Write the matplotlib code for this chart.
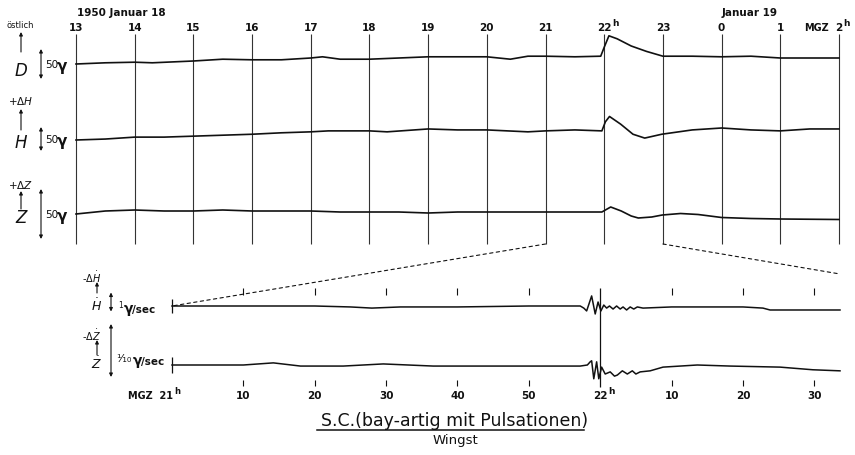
import numpy as np
import matplotlib.pyplot as plt
from matplotlib.patches import ConnectionPatch

W, H = 855, 456

# Wingst magnetogram, 18/19 Jan 1950 (MGZ hours, counted on from 0h of the 18th)
d_time = [13, 13.5, 14, 14.3, 15, 15.5, 16, 16.5, 17, 17.2, 17.5, 18, 18.5, 19, 19.5, 20,
          20.4, 20.7, 21, 21.5, 21.94, 22.0, 22.08, 22.22, 22.46, 22.72, 23, 23.5, 24,
          24.5, 25, 25.5, 26]
d_gamma = [0, 2, 3, 2, 5, 8, 7, 7, 10, 12, 8, 8, 10, 12, 12, 12,
           8, 13, 13, 12, 13, 28, 47, 42, 30, 21, 13, 13, 12,
           13, 10, 10, 10]

h_time = [13, 13.5, 14, 14.5, 15, 15.5, 16, 16.5, 17, 17.3, 18, 18.3, 19, 19.5, 20, 20.7,
          21, 21.5, 21.96, 22.02, 22.09, 22.28, 22.49, 22.69, 22.98, 23.5, 24, 24.5, 25,
          25.5, 26]
h_gamma = [0, 2, 6, 6, 8, 10, 12, 15, 17, 19, 19, 17, 23, 21, 21, 17,
           19, 21, 19, 38, 49, 33, 12, 4, 12, 21, 25, 21, 19,
           23, 23]

z_time = [13, 13.5, 14, 14.5, 15, 15.5, 16, 16.5, 17, 17.5, 18, 18.5, 19, 19.5, 20, 20.5,
          21, 21.5, 21.96, 22.11, 22.29, 22.46, 22.58, 22.81, 22.99, 23.3, 23.6, 24, 24.5,
          25, 26]
z_gamma = [0, 3, 4, 3, 3, 4, 3, 3, 3, 2, 2, 2, 1, 2, 2, 2,
           2, 2, 2, 7, 3, -2, -4, -3, -1, 0.5, -0.5, -3.5, -4.5,
           -5, -5.5]

grid_hours = list(range(13, 27))
grid_labels = ['13', '14', '15', '16', '17', '18', '19', '20', '21', '22', '23', '0', '1', '2']
grid_sup = [False] * 9 + [True] + [False] * 3 + [True]

# rapid-run record, minutes after 21h MGZ
hdot_min = [0, 10, 20, 25, 28, 32, 40, 50, 57.2, 57.7, 58.1, 58.8, 59.3, 59.7, 60.1, 60.5,
            60.9, 61.3, 61.8, 62.3, 62.8, 63.2, 63.7, 64.2, 64.7, 65.2, 66.0, 70, 80, 82.8,
            83.8, 93.6]
hdot = [0, 0, 0, -0.05, -0.11, -0.05, -0.05, 0, 0, -0.11, -0.26, 0.53, -0.42, 0.21, -0.26, 0.05,
        -0.11, 0, -0.16, 0, -0.16, -0.05, -0.21, -0.05, -0.16, -0.05, -0.11, -0.05, -0.05, -0.11,
        -0.21, -0.21]

zdot_min = [0, 10, 14.2, 18, 24, 29.6, 36.6, 43.2, 57.2, 58.2, 58.6, 58.8, 59.1, 59.5, 59.8,
            60.2, 60.7, 61.4, 62.0, 62.4, 63.1, 63.8, 64.5, 65.0, 65.6, 67.0, 68.8, 71.2, 73.6,
            78.2, 85.2, 89.8, 93.6]
zdot = [0, 0, 0.004, -0.002, -0.002, 0.002, -0.002, -0.002, -0.002, 0, 0.006, 0.008, -0.026,
        0.006, -0.026, -0.004, -0.017, -0.013, -0.021, -0.019, -0.011, -0.017, -0.011, -0.017,
        -0.013, -0.011, -0.004, -0.002, 0, -0.002, -0.004, -0.009, -0.011]

minute_ticks = [10, 20, 30, 40, 50, 60, 70, 80, 90]
minute_labels = ['10', '20', '30', '40', '50', '22', '10', '20', '30']

# trace baselines (pixel rows) and sensitivities
D_BASE, D_SCALE = 65, 0.6      # px per gamma
H_BASE, H_SCALE = 141, 0.48
Z_BASE, Z_SCALE = 215, 1.0
HD_BASE, HD_SCALE = 307, 19    # px per gamma/sec
ZD_BASE, ZD_SCALE = 366, 530

plt.rcParams['font.family'] = 'DejaVu Sans'
fig = plt.figure(figsize=(W / 100, H / 100), dpi=100)


def panel(x0, x1, xlim):
    ax = fig.add_axes([x0 / W, 0, (x1 - x0) / W, 1])
    ax.set_xlim(*xlim)
    ax.set_ylim(H, 0)
    ax.axis('off')
    return ax


top = panel(76, 839, (13, 26))
bot = panel(172, 840, (0, 93.6))
ov = panel(0, W, (0, W))

INK = '#111111'
TXT = dict(color=INK, ha='center', va='center')


def arrow(ax, x, y0, y1, style='-|>', lw=0.8):
    ax.annotate('', xy=(x, y1), xytext=(x, y0),
                arrowprops=dict(arrowstyle=style, lw=lw, color=INK, shrinkA=0, shrinkB=0,
                                mutation_scale=5))


def sup_h(ax, x, y, dx, size=6.5):
    # superscript "h" set just after an hour number
    ax.annotate('h', (x, y), xytext=(dx, 3.5), textcoords='offset points', fontsize=size,
                weight='bold', color=INK, ha='left', va='center')


# ---- hourly traces
top.vlines(grid_hours, 35, 245, colors='#333333', lw=0.8, clip_on=False)
for t, v, base, sc in [(d_time, d_gamma, D_BASE, D_SCALE),
                       (h_time, h_gamma, H_BASE, H_SCALE),
                       (z_time, z_gamma, Z_BASE, Z_SCALE)]:
    top.plot(t, base - np.asarray(v) * sc, color=INK, lw=1.2, clip_on=False,
             solid_joinstyle='round')

for hr, lab, sup in zip(grid_hours, grid_labels, grid_sup):
    top.text(hr, 28, lab, fontsize=7.5, weight='bold', **TXT)
    if sup:
        sup_h(top, hr, 28, dx=2.9 * len(lab) + 0.3)
ov.text(77, 13, '1950 Januar 18', fontsize=7.5, weight='bold', color=INK, ha='left', va='center')
ov.text(750, 13, 'Januar 19', fontsize=7.5, weight='bold', **TXT)
ov.text(829, 28, 'MGZ', fontsize=7, weight='bold', color=INK, ha='right', va='center')

# component names and scale bars
ov.text(20, 26, 'östlich', fontsize=6, **TXT)
arrow(ov, 21, 53, 33)
ov.text(21, 71, 'D', fontsize=12, style='italic', **TXT)
ov.text(21, 101, '+$\\mathit{\\Delta H}$', fontsize=7.5, **TXT)
arrow(ov, 21, 131, 110)
ov.text(21, 143, 'H', fontsize=12, style='italic', **TXT)
ov.text(21, 185, '+$\\mathit{\\Delta Z}$', fontsize=7.5, **TXT)
arrow(ov, 21, 210, 192)
ov.text(21, 218, 'Z', fontsize=12, style='italic', **TXT)

for base, sc in [(D_BASE, D_SCALE), (H_BASE - 1, H_SCALE), (Z_BASE, Z_SCALE)]:
    arrow(ov, 41, base + 25 * sc, base - 25 * sc, style='<|-|>')
    ov.text(45, base, '50', fontsize=7.5, color=INK, ha='left', va='center')
    ov.text(57, base + 2, 'γ', fontsize=11, weight='bold', color=INK, ha='left', va='center')

# ---- rapid-run traces
bot.vlines([m for m in minute_ticks if m != 60], 289, 296, colors=INK, lw=0.8)
bot.vlines([m for m in minute_ticks if m != 60], 381, 387, colors=INK, lw=0.8)
bot.vlines([60], 289, 388, colors=INK, lw=0.9)
bot.vlines([0, 0], [300, 358], [314, 374], colors=INK, lw=0.9, clip_on=False)
bot.plot(hdot_min, HD_BASE - np.asarray(hdot) * HD_SCALE, color=INK, lw=1.1, clip_on=False)
bot.plot(zdot_min, ZD_BASE - np.asarray(zdot) * ZD_SCALE, color=INK, lw=1.1, clip_on=False)

for m, lab in zip(minute_ticks, minute_labels):
    bot.text(m, 396, lab, fontsize=7.5, weight='bold', **TXT)
    if m == 60:
        sup_h(bot, m, 396, dx=6.1)
bot.text(0.2, 396, 'MGZ  21', fontsize=7, weight='bold', color=INK, ha='right', va='center')
sup_h(bot, 0.2, 396, dx=0.4, size=6)

ov.text(92, 277, '-$\\mathit{\\Delta\\dot{H}}$', fontsize=7, **TXT)
arrow(ov, 97, 294, 283)
ov.text(97, 306, '$\\mathit{\\dot{H}}$', fontsize=9, **TXT)
arrow(ov, 111, 303 + 0.5 * HD_SCALE, 303 - 0.5 * HD_SCALE, style='<|-|>')
ov.text(118, 306, '1', fontsize=5.5, color=INK, ha='left', va='center')
ov.text(124, 309, 'γ', fontsize=10, weight='bold', color=INK, ha='left', va='center')
ov.text(132, 310, '/sec', fontsize=7.5, weight='bold', color=INK, ha='left', va='center')

ov.text(92, 335, '-$\\mathit{\\Delta\\dot{Z}}$', fontsize=7, **TXT)
arrow(ov, 97, 356, 341)
ov.text(97, 364, '$\\mathit{\\dot{Z}}$', fontsize=9, **TXT)
arrow(ov, 111, 351.5 + 0.05 * ZD_SCALE, 351.5 - 0.05 * ZD_SCALE, style='<|-|>')
ov.text(116, 359, '¹⁄₁₀', fontsize=8, color=INK, ha='left', va='center')
ov.text(133, 361, 'γ', fontsize=10, weight='bold', color=INK, ha='left', va='center')
ov.text(141, 362, '/sec', fontsize=7.5, weight='bold', color=INK, ha='left', va='center')

# zoom connectors from the hourly record to the rapid-run record
for xa, ya, xb, yb in [(21, 245, 0, HD_BASE), (23, 245, 93.6, 275)]:
    fig.add_artist(ConnectionPatch(xyA=(xa, ya), coordsA=top.transData,
                                   xyB=(xb, yb), coordsB=bot.transData,
                                   color=INK, lw=0.8, linestyle=(0, (3, 3))))

title = ov.text(455, 421, 'S.C.(bay-artig mit Pulsationen)', fontsize=12.5, **TXT)
ov.text(455, 441, 'Wingst', fontsize=9.5, **TXT)

fig.canvas.draw()
bb = title.get_window_extent()
(ux0, uy), (ux1, _) = ov.transData.inverted().transform([(bb.x0, bb.y0), (bb.x1, bb.y0)])
ov.plot([ux0 - 4, ux1 - 5], [uy + 1, uy + 1], color=INK, lw=1.1)

fig.savefig('out.png', dpi=100)
